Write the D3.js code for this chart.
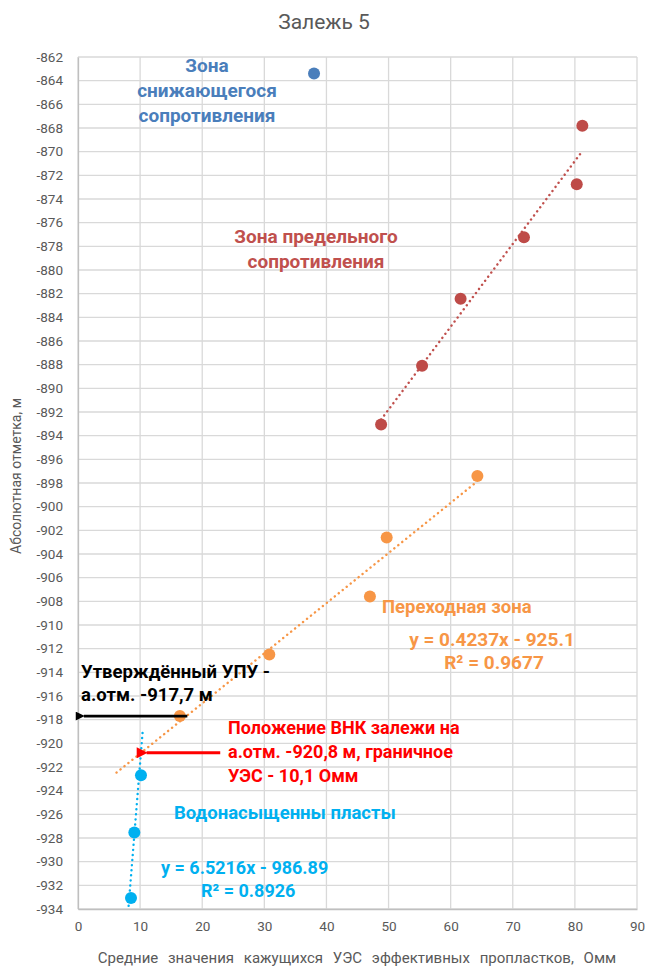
<!DOCTYPE html>
<html>
<head>
<meta charset="utf-8">
<script src="https://d3js.org/d3.v7.min.js"></script>
<style>
  body { margin: 0; background: #fff; }
  svg text { font-family: "Roboto", "Liberation Sans", sans-serif; }
</style>
</head>
<body>
<script>
// ---- data ----
const lowX = [38.0];
const lowY = [-863.4];

const limitX = [81.2, 80.3, 71.8, 61.6, 55.4, 48.8];
const limitY = [-867.8, -872.76, -877.24, -882.43, -888.1, -893.05];

const transX = [64.3, 49.7, 47.0, 30.8, 16.4];
const transY = [-897.4, -902.6, -907.6, -912.5, -917.7];
const transFit = [0.4237, -925.1];      // slope, intercept
const transRange = [6.2, 64.3];

const waterX = [10.14, 9.07, 8.53];
const waterY = [-922.7, -927.54, -933.07];
const waterFit = [6.5216, -986.89];
const waterRange = [8.15, 10.45];

const xTicks = d3.range(0, 91, 10);
const yTicks = d3.range(-934, -861, 2);

const arrowY = [-917.7, -920.8];
const arrowFrom = [17.6, 22.9];
const arrowTo = [0.3, 10.4];

// ---- layout ----
const W = 645, H = 971;
const mLeft = 78, mTop = 57, mRight = 637, mBottom = 909;

const svg = d3.select('body').append('svg')
  .attr('width', W).attr('height', H);

const x = d3.scaleLinear().domain([0, 90]).range([mLeft, mRight]);
const y = d3.scaleLinear().domain([-934, -862]).range([mBottom, mTop]);

const grey = '#595959';

// gridlines
svg.append('g').selectAll('line.v').data(xTicks).enter().append('line')
  .attr('x1', d => x(d)).attr('x2', d => x(d))
  .attr('y1', mTop).attr('y2', mBottom)
  .attr('stroke', '#d9d9d9').attr('stroke-width', 1.3);
svg.append('g').selectAll('line.h').data(yTicks).enter().append('line')
  .attr('x1', mLeft).attr('x2', mRight)
  .attr('y1', d => y(d)).attr('y2', d => y(d))
  .attr('stroke', '#d9d9d9').attr('stroke-width', 1.3);

// axes
const xAxis = svg.append('g').attr('transform', `translate(0,${mBottom})`)
  .call(d3.axisBottom(x).tickValues(xTicks).tickSize(0).tickPadding(12).tickFormat(d => String(d)));
const yAxis = svg.append('g').attr('transform', `translate(${mLeft},0)`)
  .call(d3.axisLeft(y).tickValues(yTicks).tickSize(0).tickPadding(15).tickFormat(d => String(d)));
[xAxis, yAxis].forEach(a => {
  a.select('.domain').attr('stroke', '#bfbfbf').attr('stroke-width', 1.3);
  a.selectAll('text').attr('fill', grey).attr('font-size', 13.5);
});

// title and axis titles
svg.append('text').attr('x', 324).attr('y', 29).attr('text-anchor', 'middle')
  .attr('fill', grey).attr('font-size', 21).text('Залежь 5');
svg.append('text').attr('transform', 'translate(21,476) rotate(-90)')
  .attr('text-anchor', 'middle').attr('fill', grey).attr('font-size', 14)
  .text('Абсолютная отметка, м');
svg.append('text').attr('x', 357).attr('y', 963).attr('text-anchor', 'middle')
  .attr('fill', grey).attr('font-size', 15).attr('word-spacing', 6)
  .text('Средние значения кажущихся УЭС эффективных пропластков, Омм');

// trendlines
function fit(xs, ys) {
  const mx = d3.mean(xs), my = d3.mean(ys);
  const sxy = d3.sum(xs, (v, i) => (v - mx) * (ys[i] - my));
  const sxx = d3.sum(xs, v => (v - mx) * (v - mx));
  const k = sxy / sxx;
  return [k, my - k * mx];
}
const limitFit = fit(limitX, limitY);
const trends = [
  { f: limitFit, r: d3.extent(limitX), c: '#c0504d' },
  { f: transFit, r: transRange, c: '#f79646' },
  { f: waterFit, r: waterRange, c: '#00b0f0' }
];
svg.append('clipPath').attr('id', 'plot').append('rect')
  .attr('x', mLeft).attr('y', mTop).attr('width', mRight - mLeft).attr('height', mBottom - mTop);
svg.append('g').attr('clip-path', 'url(#plot)').selectAll('line').data(trends).enter().append('line')
  .attr('x1', d => x(d.r[0])).attr('y1', d => y(d.f[0] * d.r[0] + d.f[1]))
  .attr('x2', d => x(d.r[1])).attr('y2', d => y(d.f[0] * d.r[1] + d.f[1]))
  .attr('stroke', d => d.c).attr('stroke-width', 2.4)
  .attr('stroke-dasharray', '0.1,5').attr('stroke-linecap', 'round');

// points
const series = [
  { xs: lowX, ys: lowY, c: '#4a7ebb' },
  { xs: limitX, ys: limitY, c: '#be4b48' },
  { xs: transX, ys: transY, c: '#f79646' },
  { xs: waterX, ys: waterY, c: '#00b0f0' }
];
series.forEach(s => {
  svg.append('g').selectAll('circle').data(s.xs).enter().append('circle')
    .attr('cx', d => x(d)).attr('cy', (d, i) => y(s.ys[i]))
    .attr('r', 6).attr('fill', s.c);
});

// arrows
const defs = svg.append('defs');
defs.append('marker').attr('id', 'headBlack').attr('viewBox', '0 0 10 10')
  .attr('refX', 1).attr('refY', 5).attr('markerUnits', 'userSpaceOnUse')
  .attr('markerWidth', 10).attr('markerHeight', 9).attr('orient', 'auto-start-reverse')
  .append('path').attr('d', 'M0,5 L10,0 L10,10 Z').attr('fill', '#000');
defs.append('marker').attr('id', 'headRed').attr('viewBox', '0 0 10 10')
  .attr('refX', 1).attr('refY', 5).attr('markerUnits', 'userSpaceOnUse')
  .attr('markerWidth', 13).attr('markerHeight', 11).attr('orient', 'auto-start-reverse')
  .append('path').attr('d', 'M0,5 L10,0 L10,10 Z').attr('fill', '#ff0000');
svg.append('g').selectAll('line').data(arrowY).enter().append('line')
  .attr('x1', (d, i) => x(arrowTo[i]) + 4).attr('x2', (d, i) => x(arrowFrom[i]))
  .attr('y1', d => y(d)).attr('y2', d => y(d))
  .attr('stroke', (d, i) => i ? '#ff0000' : '#000')
  .attr('stroke-width', (d, i) => i ? 3 : 2.6)
  .attr('marker-start', (d, i) => i ? 'url(#headRed)' : 'url(#headBlack)');

// annotations
function note(lines, px, py, color, anchor, lh, fs) {
  const t = svg.append('text').attr('fill', color).attr('font-weight', 'bold')
    .attr('font-size', fs).attr('text-anchor', anchor);
  lines.forEach((s, i) => {
    t.append('tspan').attr('x', px).attr('y', py + i * lh).text(s);
  });
}
note(['Зона', 'снижающегося', 'сопротивления'], 207, 72, '#4a7ebb', 'middle', 25, 19);
note(['Зона предельного', 'сопротивления'], 316, 243, '#c0504d', 'middle', 25, 19);
note(['Переходная зона'], 382, 613, '#f79646', 'start', 0, 18.5);
note(['y = 0.4237x  - 925.1'], 492, 646, '#f79646', 'middle', 0, 19);
note(['R² = 0.9677'], 494, 669, '#f79646', 'middle', 0, 19);
note(['Утверждённый УПУ -', 'а.отм. -917,7  м'], 81, 678, '#000', 'start', 23, 18.5);
note(['Положение ВНК залежи на', 'а.отм. -920,8  м, граничное', 'УЭС - 10,1 Омм'], 228, 734, '#ff0000', 'start', 24, 18);
note(['Водонасыщенны пласты'], 174, 819, '#00b0f0', 'start', 0, 18.5);
note(['y = 6.5216x  - 986.89'], 161, 874, '#00b0f0', 'start', 0, 18);
note(['R² = 0.8926'], 201, 897, '#00b0f0', 'start', 0, 18);
</script>
</body>
</html>
